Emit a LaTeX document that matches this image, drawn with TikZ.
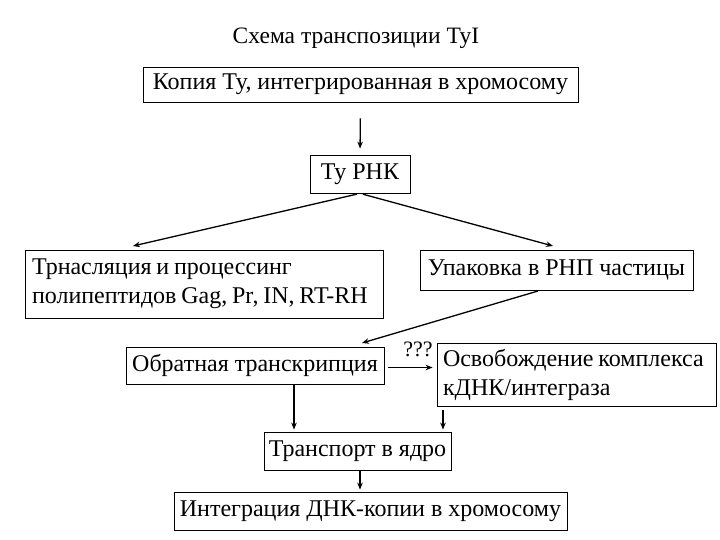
\documentclass[tikz,border=0pt]{standalone}
\usepackage{fontspec}
\setmainfont{Liberation Serif}
\usetikzlibrary{arrows.meta}
\newcommand\tightsp{\spaceskip=0.2em plus 0.05em minus 0.02em\relax}
\begin{document}
\begin{tikzpicture}[x=1pt,y=-1pt,
  box/.style={draw,line width=0.8pt,inner sep=0pt,font=\fontsize{24}{29}\selectfont},
  tbox/.style={box,align=flush left},
  arr/.style={line width=1.3pt,-{Stealth[length=7pt,width=5.5pt]}}]
\useasboundingbox (0,0) rectangle (720,540);
\node[font=\fontsize{23.5}{28}\selectfont] (title) at (356,38) {Схема транспозиции ТуI};
\node[box,minimum width=435,minimum height=35] (b1) at (360.5,84.5) {Копия Ту, интегрированная в хромосому};
\node[box,minimum width=100,minimum height=38] (b2) at (360,174) {Ту РНК};
\node[tbox,minimum width=358,minimum height=68,text width=344,inner xsep=7pt] (b3) at (204,284) {\tightsp Трнасляция и процессинг\\полипептидов Gag, Pr, IN, RT-RH};
\node[box,minimum width=273,minimum height=40] (b4) at (556.5,270) {Упаковка в РНП частицы};
\node[box,minimum width=258,minimum height=37] (b5) at (255,365.5) {Обратная транскрипция};
\node[tbox,minimum width=279,minimum height=63,text width=267,inner xsep=6pt] (b6) at (576.5,374.5) {\tightsp Освобождение комплекса\\кДНК/интеграза};
\node[box,minimum width=187,minimum height=38] (b7) at (357.5,451) {Транспорт в ядро};
\node[box,minimum width=393,minimum height=38] (b8) at (370.5,511) {Интеграция ДНК-копии в хромосому};
\node[font=\fontsize{22}{25}\selectfont] (q) at (418,349) {???};
\coordinate (t3) at (133,246);
\coordinate (t4) at (553,246);
\coordinate (s4) at (538,291);
\coordinate (t5) at (362,343);
\draw[arr,shorten <=16pt,shorten >=6pt] (b1.south) -- (b2.north);
\draw[arr,shorten <=3pt] (b2.south) -- (t3);
\draw[arr,shorten <=3pt] (b2.south) -- (t4);
\draw[arr] (s4) -- (t5);
\draw[arr,shorten <=4pt,shorten >=4pt] ([yshift=-2pt]b5.east) -- ([yshift=-2pt]b5.east -| b6.west);
\draw[arr,shorten >=2pt] ([xshift=39pt]b5.south) -- ([xshift=39pt]b5.south |- b7.north);
\draw[arr,shorten <=4pt,shorten >=2pt] ([xshift=-133.5pt]b6.south) -- ([xshift=-133.5pt]b6.south |- b7.north);
\draw[arr,shorten >=2pt] ([xshift=2.5pt]b7.south) -- ([xshift=2.5pt]b7.south |- b8.north);
\end{tikzpicture}
\end{document}
